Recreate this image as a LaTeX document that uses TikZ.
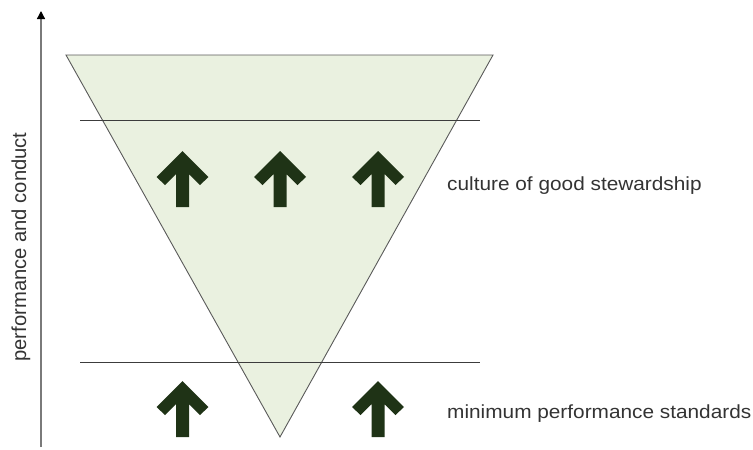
\documentclass[tikz,border=0pt]{standalone}
\usepackage{fontspec}
\setmainfont{Liberation Sans}
\usetikzlibrary{arrows.meta}
\definecolor{conefill}{HTML}{EAF1E0}
\definecolor{coneline}{HTML}{5A5A5A}
\definecolor{levelline}{HTML}{3C3C3C}
\definecolor{arrowgreen}{HTML}{1F3316}
\definecolor{labelgray}{HTML}{333333}
\definecolor{axisgray}{HTML}{7A7A7A}
\begin{document}
\begin{tikzpicture}[x=1pt,y=-1pt,
  levelstyle/.style={draw=levelline,line width=0.9pt},
  labelstyle/.style={text=labelgray,font=\fontsize{19}{22}\selectfont,inner sep=0pt,xscale=1.095},
  axislabel/.style={text=labelgray,font=\fontsize{20.2}{22}\selectfont,inner sep=0pt},
  uparrow/.pic={
    \fill[arrowgreen] (0,0) -- (26,26) -- (17.5,34) -- (6.5,23) -- (6.5,56)
      -- (-6.5,56) -- (-6.5,23) -- (-17.5,34) -- (-26,26) -- cycle;
  }]
\useasboundingbox (0,0) rectangle (753,450);

% vertical axis
\coordinate (axbot) at (41,447);
\coordinate (axtop) at (41,11);
\draw[axisgray,line width=1.3pt,-{Triangle[length=8pt,width=8pt,color=black]}] (axbot) -- (axtop);
\node[axislabel,rotate=90,anchor=center] (axlabel) at (21,247) {performance and conduct};

% inverted cone
\coordinate (tl) at (66,55);
\coordinate (tr) at (493,55);
\coordinate (bt) at (280,437);
\fill[conefill] (tl) -- (tr) -- (bt) -- cycle;
\draw[coneline,line width=0.9pt,line join=miter] (tl) -- (tr) -- (bt) -- cycle;

% level lines
\coordinate (u1) at (80,120);
\coordinate (u2) at (480,120);
\coordinate (l1) at (80,362);
\coordinate (l2) at (480,362);
\draw[levelstyle] (u1) -- (u2);
\draw[levelstyle] (l1) -- (l2);

% arrows
\pic at (182.5,151) {uparrow};
\pic at (280,151) {uparrow};
\pic at (378,151) {uparrow};
\pic at (182.5,381) {uparrow};
\pic at (378,381) {uparrow};

% labels
\node[labelstyle,anchor=base west] (culture) at (447,190) {culture of good stewardship};
\node[labelstyle,anchor=base west] (minimum) at (447,418) {minimum performance standards};
\end{tikzpicture}
\end{document}
